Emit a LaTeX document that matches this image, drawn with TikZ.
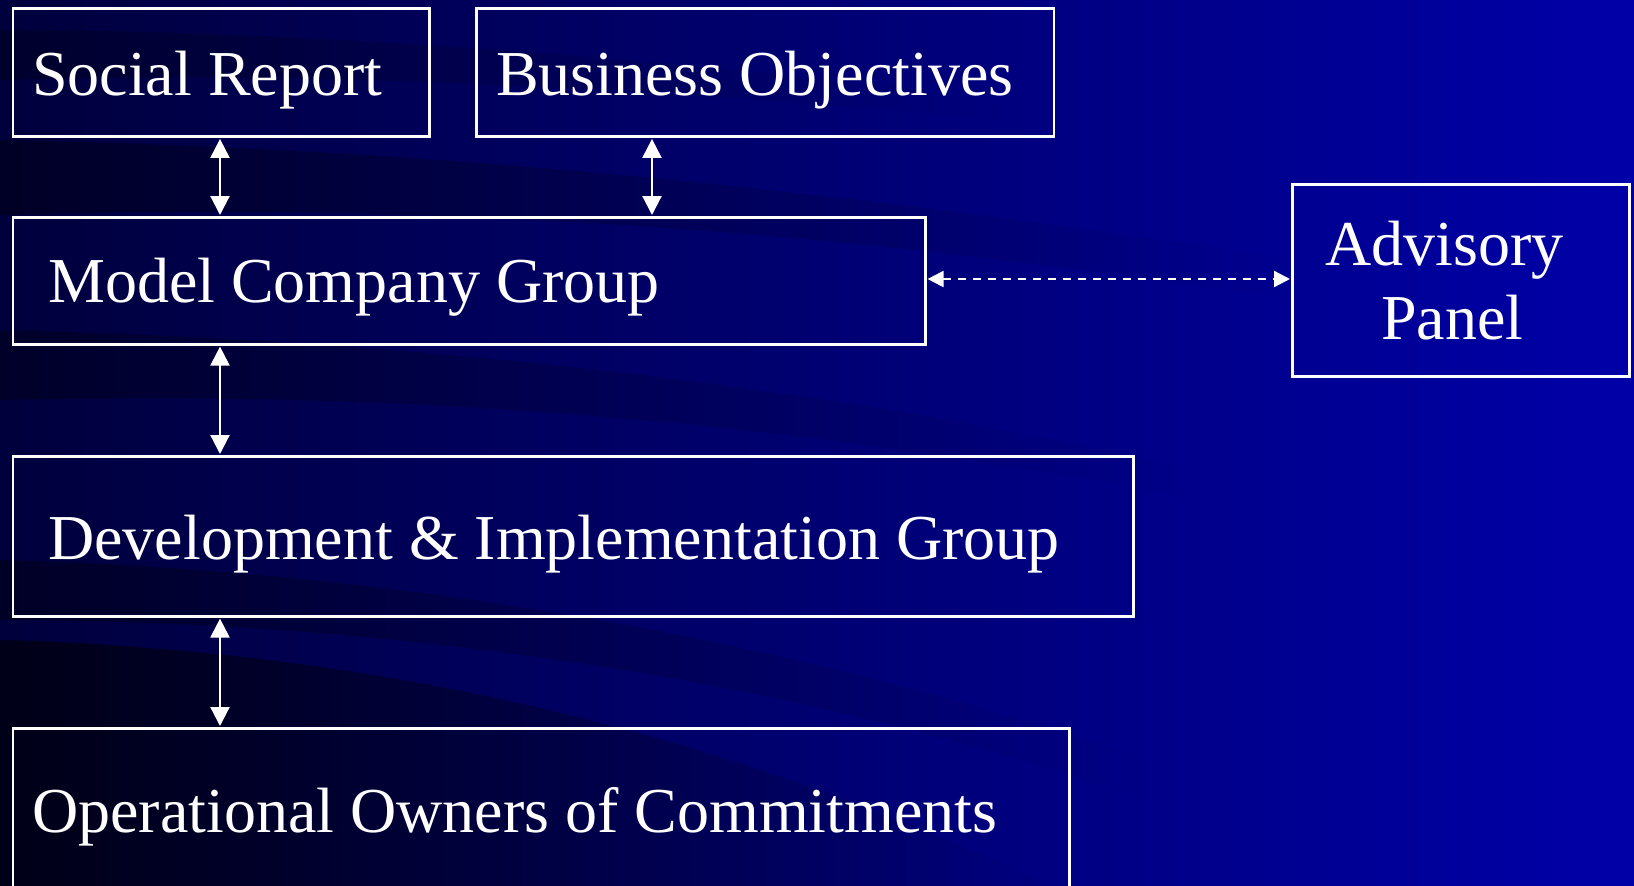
\documentclass[tikz,border=0pt]{standalone}
\usepackage{fontspec}
\setmainfont{Liberation Serif}
\usetikzlibrary{arrows.meta,fadings}
\definecolor{bgleft}{RGB}{0,0,60}
\definecolor{bgright}{RGB}{0,0,168}
\tikzset{
  box/.style={draw=white, line width=2.6pt, anchor=north west, inner sep=0pt},
  lbl/.style={text=white, anchor=base west, inner sep=0pt, font=\fontsize{64}{72}\selectfont},
  link/.style={white, line width=2.2pt, {Triangle[width=19pt,length=19pt]}-{Triangle[width=19pt,length=19pt]}, shorten <=1pt, shorten >=1pt},
  dlink/.style={white, line width=2.2pt, dash pattern=on 8pt off 7pt, {Triangle[width=16pt,length=16pt]}-{Triangle[width=16pt,length=16pt]}, shorten <=1pt, shorten >=1pt},
  band/.style={fill=black, path fading=east},
}
\begin{document}
\begin{tikzpicture}[x=1pt,y=-1pt]
\useasboundingbox (0,0) rectangle (1634,886);
\clip (0,0) rectangle (1634,886);
% background gradient and dark swooshes
\shade[left color=bgleft, right color=bgright] (0,0) rectangle (1634,886);
\fill[band, fill opacity=0.35] (0,140) .. controls (500,150) and (900,200) .. (1300,260) -- (1300,300) .. controls (900,240) and (500,200) .. (0,215) -- cycle;
\fill[band, fill opacity=0.25] (0,30) .. controls (300,30) and (700,60) .. (1000,100) -- (1000,120) .. controls (700,90) and (300,70) .. (0,80) -- cycle;
\fill[band, fill opacity=0.3] (0,330) .. controls (400,340) and (800,380) .. (1200,470) -- (1200,500) .. controls (800,420) and (400,390) .. (0,400) -- cycle;
\fill[band, fill opacity=0.35] (0,560) .. controls (400,570) and (800,640) .. (1150,760) -- (1150,800) .. controls (800,680) and (400,620) .. (0,620) -- cycle;
\fill[band, fill opacity=0.6] (0,640) .. controls (350,650) and (700,720) .. (1050,886) -- (0,886) -- cycle;

% boxes
\node[box, minimum width=416.5pt, minimum height=128pt] (sr) at (11.5,7.3) {};
\node[box, minimum width=577.5pt, minimum height=128pt] (bo) at (475,7.3) {};
\node[box, minimum width=912.5pt, minimum height=127pt] (mcg) at (11.5,216) {};
\node[box, minimum width=337pt, minimum height=192pt] (ap) at (1291,183) {};
\node[box, minimum width=1120.5pt, minimum height=160pt] (dig) at (11.5,455) {};
\node[box, minimum width=1056.5pt, minimum height=220pt] (oo) at (11.5,727) {};

% labels
\node[lbl] (tsr) at (32,95) {Social Report};
\node[lbl] (tbo) at (496,95) {Business Objectives};
\node[lbl] (tmcg) at (48,302) {Model Company Group};
\node[lbl] (tap1) at (1325,265) {Advisory};
\node[lbl] (tap2) at (1381,339) {Panel};
\node[lbl] (tdig) at (48,559) {Development \& Implementation Group};
\node[lbl] (too) at (32,832) {Operational Owners of Commitments};

% connectors
\coordinate (c1) at (220,0);
\coordinate (c2) at (652,0);
\coordinate (c3) at (0,279);
\draw[link] (sr.south -| c1) -- (mcg.north -| c1);
\draw[link] (bo.south -| c2) -- (mcg.north -| c2);
\draw[link] (mcg.south -| c1) -- (dig.north -| c1);
\draw[link] (dig.south -| c1) -- (oo.north -| c1);
\draw[dlink] (mcg.east |- c3) -- (ap.west |- c3);
\end{tikzpicture}
\end{document}
